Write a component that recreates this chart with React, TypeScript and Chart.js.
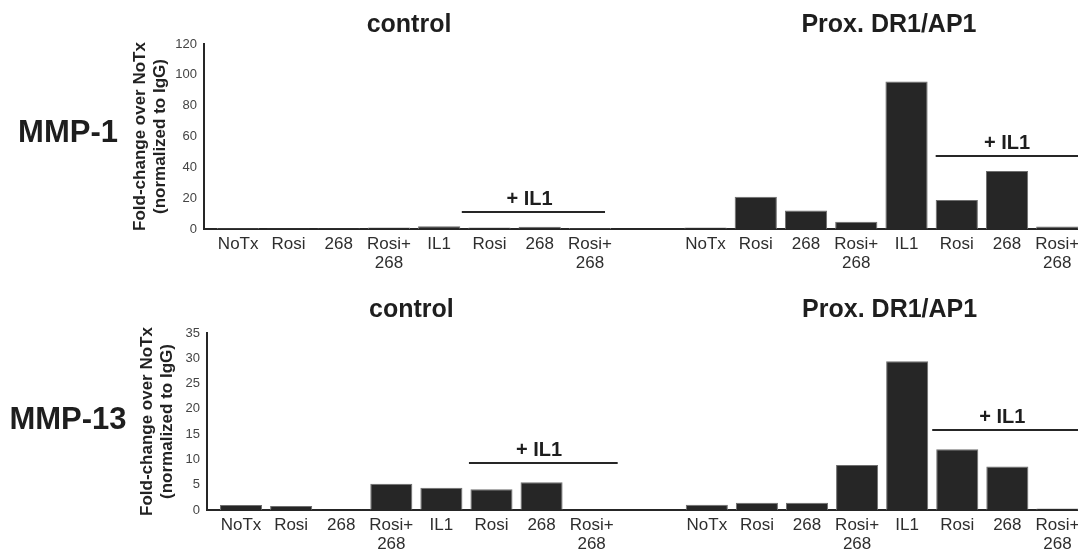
import React, { useEffect, useRef } from 'react';
import { Chart, registerables } from 'chart.js';

Chart.register(...registerables);

const FONT = '"Liberation Sans", Arial, Helvetica, sans-serif';

// ---- data ----
const categoryLabels: (string | string[])[] = ['NoTx', 'Rosi', '268', ['Rosi+', '268'], 'IL1', 'Rosi', '268', ['Rosi+', '268']];
const groupTitles = ['control', 'Prox. DR1/AP1'];
const rowLabels = ['MMP-1', 'MMP-13'];
const yTitle = ['Fold-change over NoTx', '(normalized to IgG)'];

const mmp1Control = [0.6, 0.4, 0.5, 1.0, 1.8, 1.0, 1.5, 0.6];
const mmp1Prox = [1.0, 21, 12, 4.7, 95.6, 18.8, 37.7, 1.7];
const mmp13Control = [1.0, 0.8, 0.05, 5.2, 4.4, 4.1, 5.5, 0];
const mmp13Prox = [1.05, 1.45, 1.45, 8.9, 29.4, 12, 8.6, 0.3];

const mmp1Axis = { min: 0, max: 120, step: 20 };
const mmp13Axis = { min: 0, max: 35, step: 5 };

const bracketLabel = '+ IL1';
// bracket: group, from/to/label centre (slot units inside group), level (y value)
const mmp1Brackets = [
  { group: 0, from: 4.45, to: 7.3, at: 5.8, level: 11 },
  { group: 1, from: 4.58, to: 7.8, at: 6.0, level: 47.3 },
];
const mmp13Brackets = [
  { group: 0, from: 4.55, to: 7.52, at: 5.95, level: 9.3 },
  { group: 1, from: 4.5, to: 7.8, at: 5.9, level: 15.8 },
];

// ---- layout ----
const GROUP_OFFSET = 9.3;
const X_MIN = -0.68;
const X_MAX = 17.15;
const CANVAS_W = 1100;
const INK = '#262626';

const pos = (g: number, i: number) => g * GROUP_OFFSET + i;

type Panel = {
  row: string;
  groups: number[][];
  axis: { min: number; max: number; step: number };
  brackets: { group: number; from: number; to: number; at: number; level: number }[];
  top: number;
  height: number;
  padTop: number;
  padBottom: number;
  padLeft: number;
  yWidth: number;
  titleY: number;
  rowLabelY: number;
};

const panels: Panel[] = [
  {
    row: rowLabels[0], groups: [mmp1Control, mmp1Prox], axis: mmp1Axis, brackets: mmp1Brackets,
    top: 0, height: 285, padTop: 44, padBottom: 16, padLeft: 130, yWidth: 74, titleY: 25, rowLabelY: 133,
  },
  {
    row: rowLabels[1], groups: [mmp13Control, mmp13Prox], axis: mmp13Axis, brackets: mmp13Brackets,
    top: 275, height: 275, padTop: 58, padBottom: 0, padLeft: 137, yWidth: 70, titleY: 35, rowLabelY: 145,
  },
];

const titleAnchors = [3.4, 3.65];

const annotatePlugin = {
  id: 'annotate',
  afterDraw(chart: any, _args: any, opts: any) {
    const { ctx, scales } = chart;
    const xs = scales.x;
    const ys = scales.y;
    ctx.save();
    ctx.fillStyle = '#1e1e1e';
    ctx.strokeStyle = INK;
    ctx.textAlign = 'center';
    ctx.textBaseline = 'middle';
    ctx.font = `bold 31px ${FONT}`;
    ctx.fillText(opts.row, 68, opts.rowLabelY);
    ctx.font = `bold 25px ${FONT}`;
    groupTitles.forEach((t, g) => {
      ctx.fillText(t, xs.getPixelForValue(pos(g, titleAnchors[g])), opts.titleY);
    });
    ctx.font = `bold 20px ${FONT}`;
    ctx.lineWidth = 2;
    opts.brackets.forEach((b: any) => {
      const x1 = xs.getPixelForValue(pos(b.group, b.from));
      const x2 = xs.getPixelForValue(pos(b.group, b.to));
      const y = Math.round(ys.getPixelForValue(b.level));
      ctx.beginPath();
      ctx.moveTo(x1, y);
      ctx.lineTo(x2, y);
      ctx.stroke();
      ctx.fillText(bracketLabel, xs.getPixelForValue(pos(b.group, b.at)), y - 13);
    });
    ctx.restore();
  },
};

function PanelChart({ panel }: { panel: Panel }) {
  const ref = useRef<HTMLCanvasElement | null>(null);
  useEffect(() => {
    if (!ref.current) return;
    const points: { x: number; y: number }[] = [];
    const tickPositions: number[] = [];
    const tickLabels: (string | string[])[] = [];
    panel.groups.forEach((vals, g) => {
      vals.forEach((v, i) => {
        points.push({ x: pos(g, i), y: v });
        tickPositions.push(pos(g, i));
        tickLabels.push(categoryLabels[i]);
      });
    });
    const chart = new Chart(ref.current, {
      type: 'bar',
      data: {
        datasets: [
          {
            data: points as any,
            backgroundColor: INK,
            borderColor: '#6e6e6e',
            borderWidth: 1,
            barPercentage: 0.84,
            categoryPercentage: 1,
          },
        ],
      },
      options: {
        responsive: false,
        animation: false,
        events: [],
        layout: { padding: { top: panel.padTop, left: panel.padLeft, right: 0, bottom: panel.padBottom } },
        plugins: {
          legend: { display: false },
          tooltip: { enabled: false },
          annotate: {
            row: panel.row,
            rowLabelY: panel.rowLabelY,
            titleY: panel.titleY,
            brackets: panel.brackets,
          },
        } as any,
        scales: {
          x: {
            type: 'linear',
            min: X_MIN,
            max: X_MAX,
            offset: false,
            bounds: 'data',
            grid: { display: false, drawTicks: false, offset: false },
            border: { display: true, color: INK, width: 2 },
            afterBuildTicks: (s: any) => {
              s.ticks = tickPositions.map((v) => ({ value: v }));
            },
            afterFit: (s: any) => {
              s.height = 40;
            },
            ticks: {
              autoSkip: false,
              maxRotation: 0,
              minRotation: 0,
              padding: 6,
              color: '#2e2e2e',
              font: { family: FONT, size: 17, lineHeight: 1.12 },
              callback: (_v: any, i: number) => tickLabels[i],
            },
          },
          y: {
            min: panel.axis.min,
            max: panel.axis.max,
            grid: { display: false, drawTicks: false },
            border: { display: true, color: INK, width: 2 },
            afterFit: (s: any) => {
              s.width = panel.yWidth;
            },
            ticks: {
              stepSize: panel.axis.step,
              padding: 7,
              color: '#444',
              font: { family: FONT, size: 13 },
            },
            title: {
              display: true,
              text: yTitle,
              color: '#222',
              padding: { top: 0, bottom: 0 },
              font: { family: FONT, size: 17, weight: 'bold', lineHeight: 1.2 },
            },
          },
        },
      },
      plugins: [annotatePlugin],
    } as any);
    return () => chart.destroy();
  }, [panel]);
  return (
    <canvas
      ref={ref}
      width={CANVAS_W}
      height={panel.height}
      style={{ position: 'absolute', left: 0, top: panel.top, width: CANVAS_W, height: panel.height }}
    />
  );
}

export default function App() {
  return (
    <div
      style={{
        position: 'fixed',
        left: 0,
        top: 0,
        width: 1078,
        height: 550,
        overflow: 'hidden',
        background: '#fff',
      }}
    >
      {panels.map((p) => (
        <PanelChart key={p.row} panel={p} />
      ))}
    </div>
  );
}
